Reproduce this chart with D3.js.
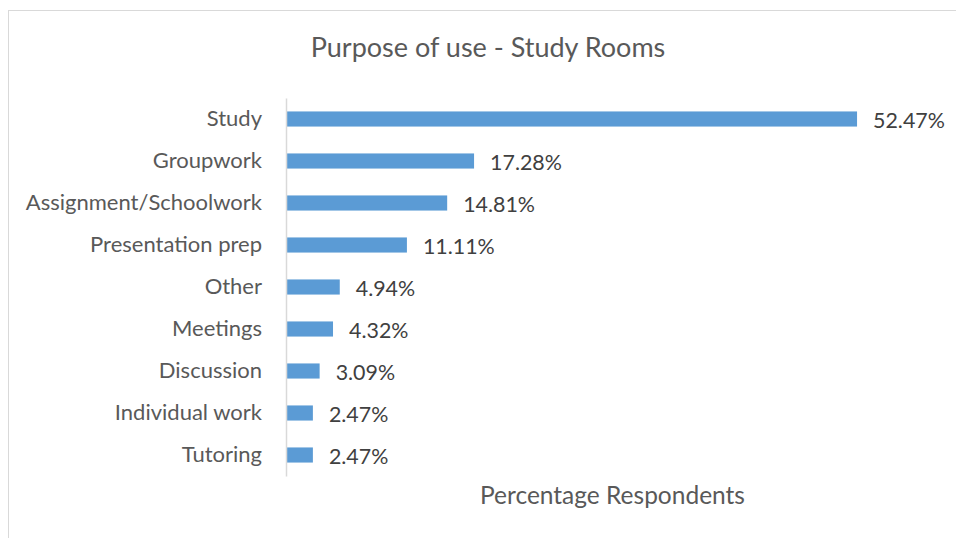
<!DOCTYPE html>
<html>
<head>
<meta charset="utf-8">
<script src="https://cdn.jsdelivr.net/npm/d3@7"></script>
<style>
  body { margin: 0; background: #fff; }
  text { font-family: Lato, "Open Sans", sans-serif; }
</style>
</head>
<body>
<svg id="chart"></svg>
<script>

const categories = ['Study', 'Groupwork', 'Assignment/Schoolwork', 'Presentation prep', 'Other',
                    'Meetings', 'Discussion', 'Individual work', 'Tutoring'];
const values = [52.47, 17.28, 14.81, 11.11, 4.94, 4.32, 3.09, 2.47, 2.47];
const chart_title = 'Purpose of use - Study Rooms';
const x_title = 'Percentage Respondents';

const svg_dims = {width: 956, height: 538};
const margin = {top: 98, right: 17, bottom: 62, left: 286};
const width = svg_dims.width - margin.left - margin.right;
const height = svg_dims.height - margin.top - margin.bottom;

const svg = d3.select('svg')
    .attr("width", svg_dims.width)
    .attr("height", svg_dims.height);

// chart frame (runs off right and bottom of the picture)
svg.append("rect")
  .attr("x", 8.5).attr("y", 10.5)
  .attr("width", 960).attr("height", 540)
  .attr("fill", "none")
  .attr("stroke", "#d9d9d9");

const g = svg.append("g")
    .attr("transform", "translate(" + margin.left + "," + margin.top + ")");

var x_scale = d3.scaleLinear()
    .domain([0, 60])
    .range([0, width]);

var y_scale = d3.scaleBand()
    .domain(categories)
    .range([0, height])
    .paddingInner(0.64)
    .paddingOuter(0.32);

// bars
g.selectAll(".bar")
  .data(values)
  .enter().append("rect")
  .attr("class", "bar")
  .attr("x", 0)
  .attr("y", (d, i) => y_scale(categories[i]))
  .attr("width", d => x_scale(d))
  .attr("height", y_scale.bandwidth())
  .attr("fill", "#5b9bd5");

// value labels
g.selectAll(".val")
  .data(values)
  .enter().append("text")
  .attr("class", "val")
  .attr("x", d => x_scale(d) + 16)
  .attr("y", (d, i) => y_scale(categories[i]) + y_scale.bandwidth() / 2 + 2)
  .attr("dy", "0.35em")
  .attr("font-size", 21.4)
  .attr("fill", "#404040")
  .text(d => d.toFixed(2) + '%');

// category axis
const y_axis = g.append("g")
  .call(d3.axisLeft(y_scale).tickSize(0).tickPadding(24));
y_axis.select(".domain").attr("stroke", "#d9d9d9").attr("stroke-width", 1.5);
y_axis.selectAll("text")
  .attr("font-size", 22)
  .attr("fill", "#595959")
  .attr("font-family", "Lato, 'Open Sans', sans-serif");

// title
svg.append("text")
  .attr("x", 488)
  .attr("y", 57)
  .attr("text-anchor", "middle")
  .attr("font-size", 27)
  .attr("fill", "#595959")
  .text(chart_title);

// x axis title
svg.append("text")
  .attr("x", margin.left + width / 2)
  .attr("y", 504)
  .attr("text-anchor", "middle")
  .attr("font-size", 24.5)
  .attr("fill", "#595959")
  .text(x_title);

</script>
</body>
</html>
